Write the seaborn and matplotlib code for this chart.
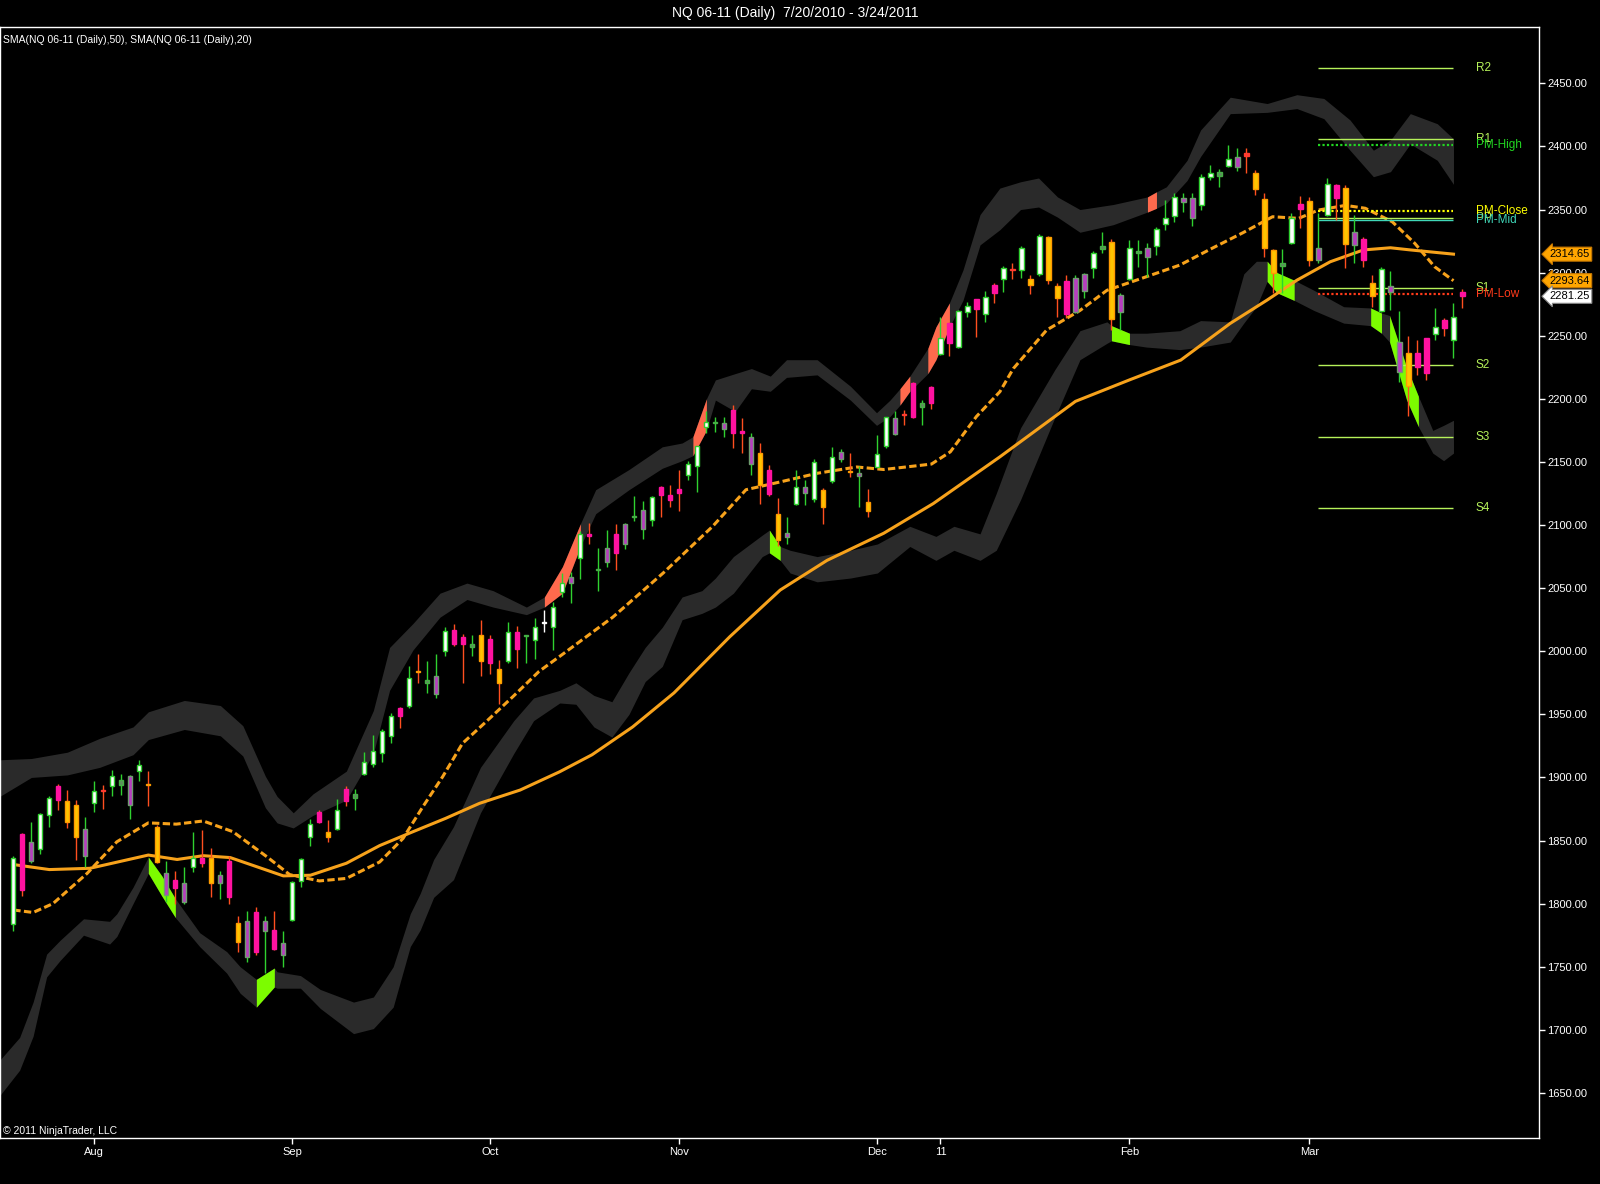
import numpy as np
import matplotlib
matplotlib.use('Agg')
import matplotlib.pyplot as plt
from matplotlib.ticker import FormatStrFormatter
import seaborn as sns

plt.rcParams['font.family'] = ['Liberation Sans', 'DejaVu Sans']

# daily bars, 7/20/2010 - 3/24/2011 (bar index = position on chart)
opens = [1784, 1855, 1849, 1843, 1870, 1893, 1865, 1853, 1859, 1880,
         1890, 1893, 1898, 1901, 1905, 1894.5, 1833, 1824, 1819, 1816,
         1829, 1836, 1816, 1823, 1834, 1770, 1786, 1793, 1786, 1779,
         1769, 1787, 1818, 1853, 1873, 1853, 1859, 1891, 1887, 1903,
         1911, 1919, 1933, 1955, 1957, 1984, 1977, 1980, 2000, 2017,
         2011, 2006, 1992, 2010, 1975, 1992, 2015, 2012, 2009, 2022,
         2019, 2047, 2059, 2074, 2093, 2064.5, 2081.5, 2093, 2101, 2106.6,
         2112, 2104, 2130, 2124, 2128.5, 2140, 2147, 2178, 2181, 2180.5,
         2191, 2174.5, 2169.5, 2157, 2143.5, 2108.5, 2094, 2116.5, 2130.3, 2121,
         2127.7, 2135, 2158, 2143, 2141.4, 2118.5, 2146.2, 2162.6, 2185, 2187.2,
         2212.3, 2197, 2209, 2235.5, 2259.8, 2240.8, 2269, 2279, 2267, 2290,
         2294.7, 2302.1, 2302, 2294.7, 2298.7, 2328, 2289.6, 2293.6, 2295.5, 2298.7,
         2303.4, 2321, 2324.5, 2282, 2294.7, 2317.4, 2319.3, 2321, 2338.5, 2344.8,
         2359.4, 2358.9, 2353.6, 2375.5, 2379.5, 2384.5, 2391.4, 2394.5, 2378.7, 2358,
         2318, 2307.4, 2323.7, 2354.4, 2357, 2319.3, 2345.6, 2369.4, 2366.8, 2332.4,
         2326.4, 2292, 2269.6, 2289.6, 2245.2, 2236.5, 2236, 2247.9, 2251, 2262.4,
         2247, 2285]
highs = [1837.5, 1856, 1865, 1872, 1885, 1895, 1890, 1882, 1869, 1897,
         1894, 1906, 1903, 1902, 1914, 1905, 1862, 1834, 1826, 1829,
         1857, 1858, 1844, 1826, 1838, 1790, 1794, 1797, 1790, 1794,
         1778, 1818, 1836, 1867, 1874, 1866, 1883, 1893, 1891, 1920,
         1934, 1938, 1951, 1956, 1988, 1998, 1992, 1998, 2019, 2021.5,
         2014, 2013, 2025, 2013, 1993, 2023, 2020, 2013, 2026, 2033,
         2039, 2062, 2063, 2095.5, 2102, 2081.5, 2096, 2101, 2102, 2123,
         2119, 2123, 2131, 2132, 2143.5, 2151, 2163, 2190, 2186, 2186,
         2195, 2184.5, 2173, 2165, 2147.5, 2121.5, 2106, 2143.5, 2135.7, 2152,
         2129, 2162, 2160, 2157, 2146.7, 2128.3, 2171.3, 2186, 2190.3, 2191,
         2213, 2199, 2210, 2265, 2260.5, 2270, 2276.5, 2279.5, 2285.7, 2292,
         2305.2, 2307.4, 2321, 2298, 2330.3, 2329, 2292, 2298, 2298, 2300,
         2317.4, 2332, 2327, 2283.6, 2325.8, 2325.8, 2323.7, 2336, 2357.5, 2362.8,
         2362.8, 2362.8, 2378, 2385.3, 2382, 2401, 2398.5, 2398.5, 2381.3, 2363.3,
         2318.5, 2318.5, 2347, 2360.7, 2360, 2347, 2374.7, 2370.2, 2369.4, 2345.6,
         2328.4, 2298, 2304.7, 2301.5, 2269.8, 2249.8, 2246.6, 2248.5, 2271.7, 2264.3,
         2275.7, 2287]
lows = [1778, 1806, 1832, 1839, 1861, 1874, 1860, 1834.5, 1829, 1873,
        1875, 1885, 1886, 1867, 1897, 1877, 1832, 1801, 1800, 1800,
        1825, 1829, 1805, 1804, 1800, 1762, 1754, 1759, 1745, 1763,
        1750, 1786, 1813, 1846, 1864, 1849, 1858, 1877, 1874, 1902,
        1908, 1912, 1927, 1939, 1955, 1975, 1967, 1963, 1996, 2004,
        1975, 1996, 1980, 1982, 1958, 1991, 1987, 1991, 1994, 2015,
        2001, 2043, 2038, 2057, 2085, 2048, 2067, 2064, 2081, 2103,
        2089, 2099, 2106, 2114.5, 2111, 2136, 2126, 2173, 2173.5, 2170,
        2161, 2157, 2140, 2117, 2123, 2083, 2085, 2115.8, 2115.8, 2118.5,
        2101, 2133.5, 2150, 2138, 2114.5, 2106, 2145.7, 2160.8, 2171.3, 2179,
        2184.5, 2179, 2191.7, 2234.7, 2234, 2240, 2264.6, 2249, 2261, 2275.7,
        2285, 2294.7, 2295.5, 2282.8, 2297.5, 2291, 2264.6, 2263.8, 2268, 2279.6,
        2296, 2315.3, 2254.5, 2254.5, 2294, 2304.7, 2296.7, 2314, 2333.8, 2340.3,
        2348.3, 2337, 2349.6, 2373.4, 2368, 2384, 2380.7, 2378.7, 2361.5, 2312.6,
        2283.6, 2283.6, 2323, 2335, 2305, 2307.8, 2344.8, 2341.7, 2303.4, 2307.8,
        2304.7, 2273, 2269, 2270.4, 2213.5, 2186.4, 2219, 2215, 2247, 2249.8,
        2232, 2271.7]
closes = [1836.5, 1811, 1834, 1871, 1884, 1882, 1881, 1878, 1838, 1889,
          1889.5, 1901, 1894, 1878, 1910, 1894, 1861, 1807, 1812, 1801,
          1836, 1832, 1836, 1816, 1805, 1785, 1758, 1762, 1778, 1764,
          1759, 1817, 1835, 1863, 1865, 1857, 1874, 1881, 1884, 1912,
          1921, 1937, 1949, 1949, 1979, 1983.5, 1975, 1966, 2016, 2005.5,
          2006, 2003, 2013, 1991, 1986, 2015, 2001.5, 2012.3, 2019, 2022.3,
          2035, 2054, 2054, 2093, 2091, 2064, 2071, 2078, 2085, 2106.8,
          2097, 2122, 2124, 2120, 2125.5, 2148, 2162.5, 2182, 2181.2, 2176,
          2173, 2172.7, 2148, 2132, 2124.5, 2088, 2090.7, 2130.3, 2125.6, 2150,
          2114, 2154, 2152, 2141.8, 2138.8, 2111.3, 2156, 2185.3, 2172, 2187,
          2185.8, 2193.7, 2197, 2248, 2244.5, 2269.6, 2273.8, 2271, 2280.4, 2283.6,
          2303.4, 2302, 2319.3, 2290.2, 2329.2, 2294, 2280, 2267, 2269, 2285.4,
          2315.3, 2318.5, 2263, 2269, 2319.3, 2315.3, 2312.6, 2334.5, 2343, 2360.1,
          2355.7, 2343, 2375.5, 2378.7, 2376.8, 2390, 2383.4, 2392.6, 2366, 2319.3,
          2299.4, 2305.5, 2343, 2350.2, 2310, 2310, 2370.2, 2358.9, 2322.7, 2321.9,
          2310, 2281.5, 2302.6, 2284.4, 2221.5, 2210, 2225.4, 2220.2, 2256.7, 2255.9,
          2265, 2281.25]
# paint-bar colour class of each bar
kinds = list('wmpwwmyypw' 'rwgpwoypmp' 'wmypmypmpm' 'pwwwmywmgw'
             'wwwmwogpwm' 'mgymywmgwx' 'wwpwmgpmpg' 'pwmmmwwwgp'
             'mmpymypwpw' 'ywpypywwpr' 'mgmwmwwmwm' 'wrwywyympp'
             'wgypwgpwww' 'ppwwgwpryy' 'ygwmypwmyp' 'mywppymmwm' 'wm')

sma50_x = [0, 4, 8.5, 15, 18.2, 21.1, 24.1, 30, 33, 37, 40.7, 44.4, 48, 51.8,
           56.3, 60.7, 64.3, 68.8, 73.4, 74.8, 79.6, 85.2, 90.4, 96.7, 102.2,
           109.6, 118, 124, 129.7, 135.2, 139.3, 142.6, 146.3, 150, 153, 155.2, 160]
sma50_y = [1831, 1827, 1828, 1838.5, 1835, 1838, 1836.5, 1822, 1822.5, 1832,
           1846, 1857, 1867.5, 1879.5, 1890, 1904.5, 1918, 1940, 1967, 1977,
           2011.5, 2048.5, 2072, 2093.5, 2117, 2154, 2198, 2215, 2230.7, 2259.8,
           2278.3, 2294, 2308.6, 2318, 2319.7, 2318, 2314.65]
sma20_x = [0, 2.2, 4.4, 8.2, 11.5, 15, 18.1, 21.1, 24.4, 28.2, 30.7, 34, 37,
           40.7, 43.3, 45.5, 47.7, 49.9, 52.5, 55.5, 58.4, 61.1, 66.6, 72.2, 77.7,
           81.4, 85.4, 89.3, 93.7, 96.7, 102, 104.1, 107, 109.6, 111.1, 114.8,
           118.5, 121.5, 125.9, 129.6, 133.1, 136.6, 139.9, 142.8, 145, 148,
           150.2, 153.2, 155.7, 157.9, 160]
sma20_y = [1795, 1793, 1800, 1824, 1849, 1864, 1863, 1865.5, 1857, 1837, 1823,
           1818, 1820, 1833, 1851.7, 1876.8, 1900.6, 1927, 1944, 1964, 1984, 1998,
           2027, 2062, 2099, 2128, 2134.5, 2141, 2146, 2144, 2148.3, 2158, 2186,
           2205.6, 2224, 2254.5, 2270, 2286, 2296.8, 2306, 2319, 2331.6, 2344.3,
           2343, 2349.6, 2353.3, 2351, 2340.3, 2323.2, 2304.7, 2293.64]

upper_x = [-1.5, 2, 6, 9.6, 13.3, 15, 19, 23, 25.5, 28, 29.3, 31.1, 33.3, 37, 40,
           41.8, 44.4, 47.4, 50.4, 53.3, 57, 59, 61, 63, 64.7, 68.4, 72.1, 74.3,
           75.5, 77, 78, 80.2, 82, 84.1, 85.9, 89.3, 93, 95.9, 97.4, 98.5, 99.6,
           101.6, 102.5, 104, 105.5, 107.4, 109.6, 111.9, 113.9, 116, 118.5, 122.2,
           126, 127, 128.1, 130.4, 131.9, 135.2, 139.3, 142.6, 145.6, 148.5, 151.1,
           153, 155.2, 158.2, 160]
upper_top = [1914, 1915, 1920, 1931, 1940, 1952, 1961, 1957, 1941, 1901, 1885,
             1872, 1887, 1905, 1953, 2003, 2022, 2046, 2054, 2048, 2035, 2043,
             2067, 2101, 2128, 2144, 2162, 2165, 2170, 2200, 2215, 2220, 2224,
             2218, 2231, 2231, 2210, 2189, 2199, 2208, 2218, 2240, 2257, 2276,
             2302, 2346, 2367, 2372, 2375, 2360, 2350, 2354, 2360, 2364, 2368,
             2389, 2413, 2439, 2434, 2441, 2438, 2421, 2397, 2405, 2426, 2418, 2406]
upper_bot = [1885, 1900, 1902, 1908, 1918, 1930, 1938, 1933, 1917, 1876, 1864,
             1860, 1870, 1882, 1919, 1969, 2001, 2027, 2041, 2035, 2029, 2035,
             2046, 2083, 2109, 2128, 2145, 2151, 2155, 2175, 2199, 2190, 2208,
             2206, 2217, 2219, 2199, 2179, 2186, 2195, 2206, 2220, 2231, 2257,
             2278, 2322, 2334, 2350, 2352, 2344, 2332, 2338, 2348, 2351, 2355,
             2373, 2392, 2426, 2427, 2430, 2422, 2397, 2376, 2380, 2402, 2389, 2370]
lower_x = [-1.5, 0.7, 2.2, 3.7, 5.2, 7.8, 10.7, 11.5, 13.3, 15, 16.5, 18, 20.7,
           23.7, 25.2, 27, 29, 29.3, 31.9, 34.1, 37.8, 40, 42.2, 44.1, 45.2, 46.7,
           48.9, 51.9, 55.6, 57.8, 60.7, 62.5, 64.5, 66.5, 68.4, 70.2, 72.1, 74.3,
           76.5, 78, 80, 83.2, 84, 85.2, 86.3, 89.3, 93, 96, 99.6, 102.5, 104.5,
           107.4, 109.2, 111.9, 115.7, 118.5, 121.5, 122, 124, 125.9, 129.6, 131.9,
           135.2, 136.7, 138.1, 139.3, 140.4, 142.3, 144.5, 147.8, 150.8, 152,
           152.9, 154.8, 156.1, 157.7, 158.9, 160]
lower_top = [1676, 1694, 1722, 1760, 1771, 1788, 1786, 1792, 1813, 1837, 1822,
             1804, 1777, 1762, 1750, 1740, 1749, 1746, 1743, 1732, 1722, 1726,
             1750, 1792, 1808, 1835, 1861, 1908, 1945, 1963, 1969, 1975, 1965,
             1960, 1983, 2003, 2019, 2043, 2048, 2058, 2075, 2092, 2096, 2083,
             2080, 2075, 2080, 2085, 2099, 2091, 2099, 2093, 2125, 2177, 2223,
             2254, 2261, 2258, 2252, 2252, 2254, 2262, 2261, 2299, 2309, 2309,
             2300, 2294, 2286, 2273, 2272, 2268, 2266, 2225, 2202, 2175, 2179, 2183]
lower_bot = [1648, 1668, 1695, 1742, 1755, 1775, 1768, 1774, 1800, 1824, 1806,
             1789, 1766, 1745, 1729, 1718, 1734, 1733, 1733, 1717, 1697, 1701,
             1718, 1766, 1779, 1805, 1819, 1872, 1919, 1945, 1959, 1958, 1940,
             1932, 1950, 1976, 1988, 2025, 2030, 2035, 2046, 2075, 2078, 2072,
             2062, 2055, 2058, 2062, 2083, 2072, 2080, 2072, 2080, 2120, 2185,
             2231, 2244, 2246, 2243, 2241, 2239, 2241, 2245, 2260, 2273, 2293,
             2284, 2278, 2270, 2260, 2258, 2252, 2245, 2199, 2178, 2157, 2151, 2157]
# stretches where the band is painted (price outside the channel)
upper_alerts = [(59, 63), (75.5, 77), (98.5, 99.6), (101.6, 104), (126, 127)]
lower_alerts = [(15, 18), (27, 29), (84, 85.2), (122, 124), (139.3, 142.3),
                (150.8, 152), (152.9, 156.1)]

pivot_names = ['R2', 'R1', 'PM-High', 'PP', 'PM-Close', 'PM-Mid', 'S1', 'PM-Low',
               'S2', 'S3', 'S4']
pivot_levels = [2462, 2405.6, 2400.9, 2343.5, 2348.6, 2341.4, 2287.6, 2283,
                2226.5, 2169.5, 2113.2]
pivot_start, pivot_end = 145, 160

month_pos = [9, 31, 53, 74, 96, 103, 124, 144]
month_names = ['Aug', 'Sep', 'Oct', 'Nov', 'Dec', '11', 'Feb', 'Mar']

# ---------------------------------------------------------------------------
W, H = 1600, 1184
fig = plt.figure(figsize=(W / 100, H / 100), dpi=100, facecolor='black')
ax = fig.add_axes([0.0, 1 - 1138 / H, 1539 / W, (1138 - 27.3) / H])
ax.set_facecolor('black')

band_col = '#2a2a2a'
ux = np.array(upper_x)
lx = np.array(lower_x)
ax.fill_between(ux, upper_top, upper_bot, color=band_col, lw=0, zorder=1)
ax.fill_between(lx, lower_top, lower_bot, color=band_col, lw=0, zorder=1)
for a, b in upper_alerts:
    ax.fill_between(ux, upper_top, upper_bot, where=(ux >= a) & (ux <= b),
                    color='#ff6a4d', lw=0, zorder=2)
for a, b in lower_alerts:
    ax.fill_between(lx, lower_top, lower_bot, where=(lx >= a) & (lx <= b),
                    color='#7cfc00', lw=0, zorder=2)

sns.lineplot(x=sma50_x, y=sma50_y, ax=ax, color='#f7a21b', lw=2.2,
             sort=False, zorder=3)
sns.lineplot(x=sma20_x, y=sma20_y, ax=ax, color='#f7a21b', lw=2.2,
             linestyle=(0, (2.4, 1.1)), sort=False, zorder=3)

# pivot / prior-month levels
yg = '#b6f25a'
pivot_style = {
    'R2': (yg, '-', yg), 'R1': (yg, '-', yg), 'PP': (yg, '-', yg),
    'S1': (yg, '-', yg), 'S2': (yg, '-', yg), 'S3': (yg, '-', yg), 'S4': (yg, '-', yg),
    'PM-High': ('#22d622', (0, (1, 1)), '#22d622'),
    'PM-Close': ('#ffff00', (0, (1, 1)), '#ffff00'),
    'PM-Mid': ('#3fd6b8', '-', '#3fd6b8'),
    'PM-Low': ('#ff3a1a', (0, (1, 1)), '#ff3a1a'),
}
for name, lvl in zip(pivot_names, pivot_levels):
    lc, ls, tc = pivot_style[name]
    lw = 1.6 if name.startswith('PM') and name != 'PM-Mid' else 1.0
    ax.hlines(lvl, pivot_start, pivot_end, colors=lc, linestyles=ls, lw=lw, zorder=3)
    ax.text(162.5, lvl, name, color=tc, fontsize=8.5, va='center', ha='left', zorder=6)

# candlesticks
style = {
    'w': ('#ffffff', '#2fd12f', '#2fd12f'),
    'm': ('#ff12a0', '#ff12a0', '#ff4f1f'),
    'p': ('#b83dc0', '#6f9c6f', '#2fd12f'),
    'y': ('#ffc400', '#ff9a00', '#ff4f1f'),
    'g': ('#5e8e5e', '#46b046', '#2fd12f'),
    'r': ('#ff3b30', '#ff3b30', '#ff4f1f'),
    'o': ('#ff9a00', '#ff9a00', '#ff4f1f'),
    'x': ('#ffffff', '#ffffff', '#ffffff'),
}
idx = np.arange(len(opens))
o, h, l, c = map(np.array, (opens, highs, lows, closes))
kk = np.array(kinds)
for k, (face, edge, wick) in style.items():
    m = kk == k
    if not m.any():
        continue
    ax.vlines(idx[m], l[m], h[m], color=wick, lw=1.0, zorder=4)
    body = np.maximum(np.abs(c - o)[m], 0.9)
    ax.bar(idx[m], body, bottom=np.minimum(o, c)[m], width=0.46, color=face,
           edgecolor=edge, linewidth=1.0, zorder=5)

ax.set_xlim(-1.48, 169.5)
ax.set_ylim(1614.3, 2494.4)

for side in ['top', 'bottom', 'right', 'left']:
    ax.spines[side].set_color('white')
    ax.spines[side].set_linewidth(1.0)

ax.yaxis.tick_right()
ax.set_yticks(np.arange(1650, 2451, 50))
ax.yaxis.set_major_formatter(FormatStrFormatter('%.2f'))
ax.tick_params(axis='y', colors='white', labelsize=8, length=4, width=1,
               direction='out', pad=2)
ax.set_xticks(month_pos)
ax.set_xticklabels(month_names)
ax.tick_params(axis='x', colors='white', labelsize=8, length=4, width=1,
               direction='out', pad=2.5)

# right-hand price tags
tags = [(sma50_y[-1], '#ffa500', '#c87800'), (sma20_y[-1], '#ffa500', '#c87800'),
        (closes[-1], '#ffffff', '#888888')]
for val, fc, ec in tags:
    ax.annotate('%.2f' % val, xy=(1.0068, val), xycoords=('axes fraction', 'data'),
                color='black', fontsize=8, va='center', ha='left', annotation_clip=False,
                bbox=dict(boxstyle='larrow,pad=0.18', fc=fc, ec=ec, lw=0.8), zorder=10)

fig.text(0.497, 1 - 13 / H, 'NQ 06-11 (Daily)  7/20/2010 - 3/24/2011',
         color='white', fontsize=10, ha='center', va='center')
fig.text(3 / W, 1 - 40 / H, 'SMA(NQ 06-11 (Daily),50), SMA(NQ 06-11 (Daily),20)',
         color='white', fontsize=7.5, ha='left', va='center')
fig.text(3 / W, 1 - 1131 / H, '\u00a9 2011 NinjaTrader, LLC', color='white',
         fontsize=7.5, ha='left', va='center')

fig.savefig('out.png', dpi=100, facecolor='black')
